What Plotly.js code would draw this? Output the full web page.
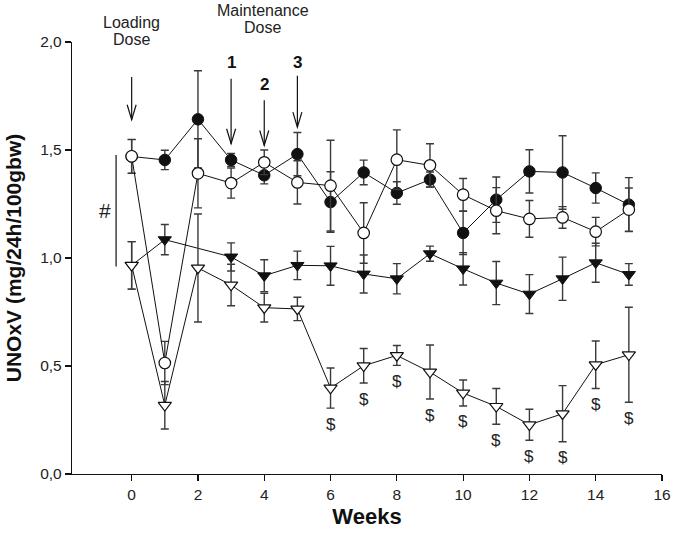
<!DOCTYPE html>
<html>
<head>
<meta charset="utf-8">
<script src="https://cdn.plot.ly/plotly-3.0.1.min.js"></script>
<style>html,body{margin:0;padding:0;background:#fff;}#chart{width:673px;height:535px;}</style>
</head>
<body>
<div id="chart"></div>
<script>
// Weeks
var weeks = [0,1,2,3,4,5,6,7,8,9,10,11,12,13,14,15];

// Filled circles
var fcY   = [1.47,1.454,1.642,1.454,1.383,1.481,1.259,1.396,1.301,1.363,1.116,1.27,1.401,1.396,1.324,1.247];
var fcErr = [0.078,0.045,0.225,0.03,0.04,0.1,0.14,0.057,0.052,0.035,0.1,0.105,0.1,0.17,0.07,0.125];

// Open circles
var ocY   = [1.471,0.514,1.392,1.347,1.443,1.35,1.335,1.116,1.455,1.429,1.293,1.219,1.181,1.188,1.122,1.224];
var ocErr = [0.078,0.1,0.16,0.07,0.057,0.1,0.21,0.14,0.138,0.1,0.075,0.107,0.085,0.05,0.066,0.1];

// Filled triangles (no value at week 2)
var ftWeeks = [0,1,3,4,5,6,7,8,9,10,11,12,13,14,15];
var ftY   = [0.966,1.085,1.005,0.918,0.966,0.964,0.926,0.904,1.02,0.95,0.884,0.833,0.904,0.978,0.924];
var ftErr = [0.11,0.07,0.065,0.074,0.066,0.09,0.088,0.07,0.035,0.075,0.1,0.09,0.1,0.09,0.05];

// Open triangles
var otY   = [0.966,0.318,0.954,0.875,0.77,0.764,0.398,0.501,0.549,0.472,0.375,0.313,0.228,0.279,0.506,0.552];
var otErr = [0.11,0.11,0.25,0.096,0.066,0.054,0.093,0.08,0.046,0.125,0.06,0.083,0.072,0.13,0.11,0.22];

// Weeks marked with "$"
var dollarWeeks = [6,7,8,9,10,11,12,13,14,15];

// Dose arrows
var arrowX    = [0,3,4,5];
var arrowTop  = [1.838,1.830,1.730,1.844];
var arrowTip  = [1.64,1.529,1.521,1.606];
var arrowLbl  = ['', '1', '2', '3'];
var arrowLblY = [null, 1.906, 1.802, 1.906];

// Dose headings (text, week, level)
var headText = ['Loading', 'Dose', 'Maintenance', 'Dose'];
var headX    = [0, 0, 3.95, 3.95];
var headY    = [2.09, 2.01, 2.148, 2.066];

// "#" bracket
var bracketX = -0.47, bracketFrom = 0.961, bracketTo = 1.477;

var xTicks = [0,2,4,6,8,10,12,14,16];
var yTicks = [0,0.5,1,1.5,2];
var yRange = [0,2];
var toPaper = function(v){ return (v - yRange[0]) / (yRange[1] - yRange[0]); };

var errStyle = function(arr){ return {type:'data', array:arr, visible:true, color:'#3a3a3a', thickness:1.4, width:4}; };
var lineStyle = {color:'#111', width:1};

var traces = [
  {x: weeks, y: fcY, error_y: errStyle(fcErr), mode:'lines+markers', line: lineStyle,
   marker:{symbol:'circle', size:11.5, color:'#111', line:{color:'#111', width:1}}, cliponaxis:false},
  {x: weeks, y: ocY, error_y: errStyle(ocErr), mode:'lines+markers', line: lineStyle,
   marker:{symbol:'circle', size:11.5, color:'#fff', line:{color:'#111', width:1.2}}, cliponaxis:false},
  {x: ftWeeks, y: ftY, error_y: errStyle(ftErr), mode:'lines+markers', line: lineStyle,
   marker:{symbol:'triangle-down', size:11.5, color:'#111', line:{color:'#111', width:1}}, cliponaxis:false},
  {x: weeks, y: otY, error_y: errStyle(otErr), mode:'lines+markers', line: lineStyle,
   marker:{symbol:'triangle-down', size:11.5, color:'#fff', line:{color:'#111', width:1.2}}, cliponaxis:false}
];

var annotations = [];
var shapes = [];
var fam = 'Liberation Sans, Arial, sans-serif';

dollarWeeks.forEach(function(w){
  var i = weeks.indexOf(w);
  annotations.push({x:w, y: otY[i]-otErr[i], xref:'x', yref:'y', text:'$', showarrow:false,
    yshift:-16, yanchor:'middle', xanchor:'center', font:{family:fam, size:17, color:'#222'}});
});

arrowX.forEach(function(ax, i){
  shapes.push({type:'line', xref:'x', yref:'y', x0:ax, x1:ax, y0:arrowTop[i], y1:arrowTip[i],
    line:{color:'#111', width:1.2}});
  shapes.push({type:'path', xref:'x', yref:'y', xsizemode:'pixel', ysizemode:'pixel',
    xanchor:ax, yanchor:arrowTip[i], path:'M -4.5 15 L 0 0 L 4.5 15', line:{color:'#111', width:1.2}});
  if(arrowLbl[i]) {
    annotations.push({x:ax, y:toPaper(arrowLblY[i]), xref:'x', yref:'paper', text:'<b>'+arrowLbl[i]+'</b>', showarrow:false,
      yanchor:'middle', font:{family:fam, size:17, color:'#111'}});
  }
});

headText.forEach(function(t, i){
  annotations.push({x:headX[i], y:toPaper(headY[i]), xref:'x', yref:'paper', text:t, showarrow:false,
    yanchor:'middle', font:{family:fam, size:16, color:'#222'}});
});

shapes.push({type:'line', xref:'x', yref:'y', x0:bracketX, x1:bracketX, y0:bracketFrom, y1:bracketTo,
  line:{color:'#111', width:1.2}});
annotations.push({x:-0.81, y:(bracketFrom+bracketTo)/2, xref:'x', yref:'y', text:'#', showarrow:false,
  yanchor:'middle', font:{family:fam, size:21, color:'#222'}});

var layout = {
  width:673, height:535,
  margin:{l:72, r:11, t:42, b:61},
  paper_bgcolor:'#fff', plot_bgcolor:'#fff',
  showlegend:false,
  separators:',.',
  font:{family:fam, color:'#222'},
  xaxis:{range:[-1.8,16], tickvals:xTicks, ticks:'outside', ticklen:6, tickwidth:1.2, tickcolor:'#111',
    showline:true, linecolor:'#111', linewidth:1.2, showgrid:false, zeroline:false,
    tickfont:{size:15.5, color:'#222'},
    title:{text:'<b>Weeks</b>', font:{size:22, color:'#111'}, standoff:6}},
  yaxis:{range:yRange, tickvals:yTicks, tickformat:'.1f', ticks:'outside', ticklen:6, tickwidth:1.2, tickcolor:'#111',
    showline:true, linecolor:'#111', linewidth:1.2, showgrid:false, zeroline:false,
    tickfont:{size:15.5, color:'#222'},
    title:{text:'<b>UNOxV (mg/24h/100gbw)</b>', font:{size:21, color:'#111'}, standoff:12}},
  annotations: annotations,
  shapes: shapes
};

Plotly.newPlot('chart', traces, layout, {displayModeBar:false, staticPlot:true});
</script>
</body>
</html>
